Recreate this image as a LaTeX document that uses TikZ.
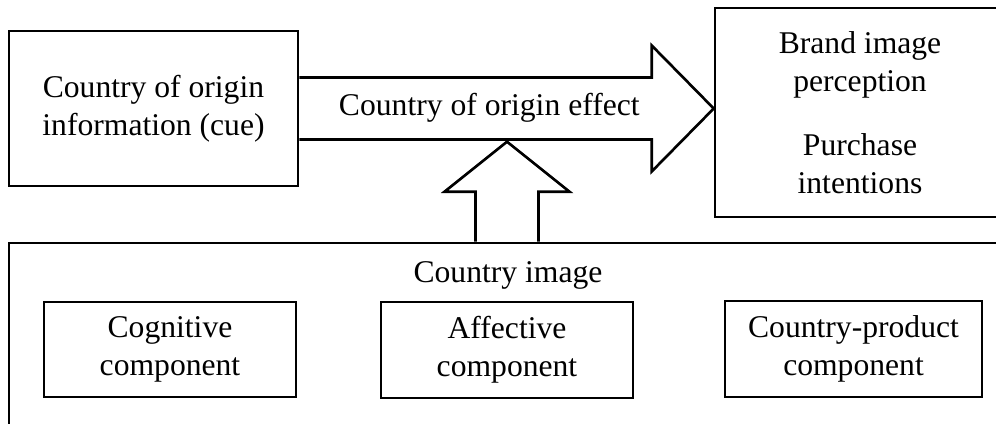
\documentclass[tikz,border=0pt]{standalone}
\usepackage{fontspec}
\setmainfont{Liberation Serif}
\usetikzlibrary{calc}
\tikzset{
  box/.style={draw,line width=1.5pt,align=center,inner sep=0pt},
  blockarrow/.style={draw,line width=1.5pt,line join=miter},
}
\begin{document}
\begin{tikzpicture}[x=0.02cm,y=-0.02cm,font=\fontsize{18}{21.6}\selectfont]
\useasboundingbox (0,0) rectangle (996,423);
\clip (0,0) rectangle (996,423);
\node[box,minimum width=5.78cm,minimum height=3.1cm] (cue) at (153.5,108.5) {Country of origin\\information (cue)};
\node[box,minimum width=5.8cm,minimum height=4.18cm] (outcome) at (860,112.5) {Brand image\\perception\\[0.52cm]Purchase\\intentions};
\node[box,minimum width=20.02cm,minimum height=3.94cm] (frame) at (509.5,341.5) {};
\node (imglabel) at (508,275) {Country image};
\node[box,minimum width=5.04cm,minimum height=1.9cm] (cognitive) at (170,349.5) {Cognitive\\component};
\node[box,minimum width=5.04cm,minimum height=1.92cm] (affective) at (507,350) {Affective\\component};
\node[box,minimum width=5.14cm,minimum height=1.92cm] (cpc) at (853.5,349) {Country-product\\component};
\coordinate (tip) at (outcome.west |- cue.east);
\coordinate (upbase) at (affective.north |- frame.north);
\draw[blockarrow] ($(cue.east)+(0,-31)$) -| ($(tip)+(-62,-63)$) -- (tip) -- ($(tip)+(-62,63)$) |- ($(cue.east)+(0,31)$);
\node (effect) at ($(cue.east)+(190,-1)$) {Country of origin effect};
\draw[blockarrow] ($(upbase)+(-31.5,0)$) -- ++(0,-50) -- ++(-31,0) -- ($(upbase)+(0,-100)$) -- ($(upbase)+(62.5,-50)$) -- ++(-31,0) -- ($(upbase)+(31.5,0)$);
\end{tikzpicture}
\end{document}
